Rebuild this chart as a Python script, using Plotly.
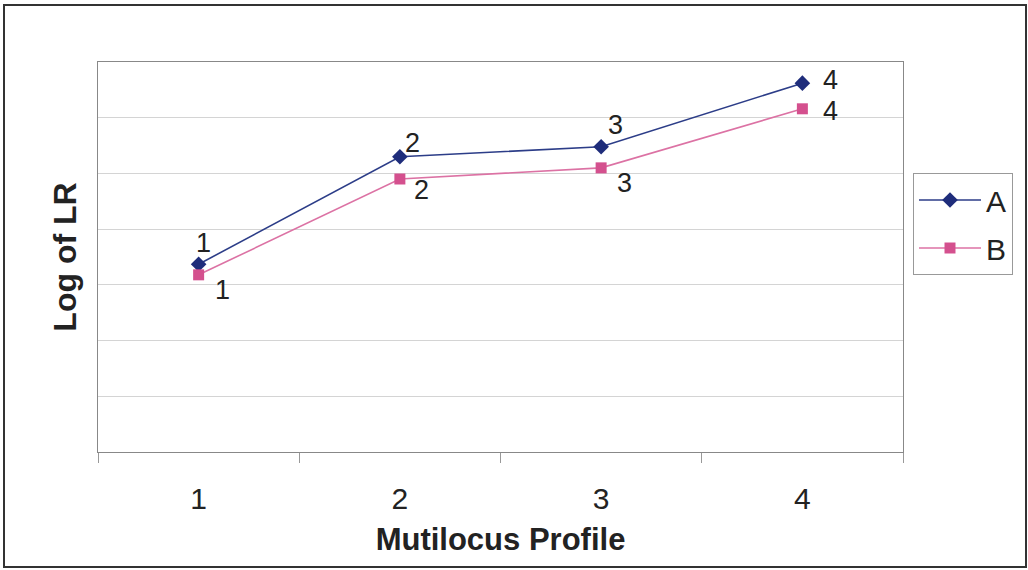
import plotly.graph_objects as go

# ---- data ----
profiles = ["1", "2", "3", "4"]
series_a = [3.37, 5.30, 5.48, 6.62]
series_b = [3.18, 4.90, 5.10, 6.16]
labels_a = ["1", "2", "3", "4"]
labels_b = ["1", "2", "3", "4"]
series_names = ["A", "B"]

# ---- styles ----
COL_A = "#1f2d7b"
COL_A_LINE = "#2c3d88"
COL_B_MARK = "#d4508e"
COL_B_LINE = "#dc72a4"
FONT = "Liberation Sans, Arial, sans-serif"
W, H = 1028, 570
ML, MR, MT, MB = 98, 125, 62, 118

fig = go.Figure()
fig.add_trace(go.Scatter(
    x=profiles, y=series_a, name=series_names[0], mode="lines+markers",
    line=dict(color=COL_A_LINE, width=1.6),
    marker=dict(symbol="diamond", size=12, color=COL_A),
    legendgroup="a",
))
fig.add_trace(go.Scatter(
    x=profiles, y=series_b, name=series_names[1], mode="lines+markers",
    line=dict(color=COL_B_LINE, width=1.6),
    marker=dict(symbol="square", size=11, color=COL_B_MARK),
    legendgroup="b",
))

# per-point label offsets (px): (xshift, yshift)
off_a = [(5, 21), (13, 14), (14, 22), (28, 3)]
off_b = [(24, -15), (22, -11), (23, -15), (28, -2)]
annotations = []
for ys, labs, offs in ((series_a, labels_a, off_a), (series_b, labels_b, off_b)):
    for i, (y, t, (dx, dy)) in enumerate(zip(ys, labs, offs)):
        annotations.append(dict(
            x=i, y=y, xref="x", yref="y", text=t, showarrow=False,
            xshift=dx, yshift=dy, font=dict(family=FONT, size=27, color="#222"),
        ))

pw = W - ML - MR
ph = H - MT - MB
def px_x(p):
    return (p - ML) / pw
def px_y(p):
    return (H - MB - p) / ph

fig.update_layout(
    width=W, height=H,
    margin=dict(l=ML, r=MR, t=MT, b=MB, autoexpand=False),
    paper_bgcolor="white", plot_bgcolor="white",
    font=dict(family=FONT, size=30, color="#222"),
    showlegend=True,
    legend=dict(
        x=px_x(913), y=px_y(173), xanchor="left", yanchor="top",
        bordercolor="#999", borderwidth=1, bgcolor="white",
        font=dict(family=FONT, size=30, color="#222"),
        tracegroupgap=6, itemwidth=62,
    ),
    annotations=annotations,
    shapes=[dict(
        type="rect", xref="paper", yref="paper",
        x0=px_x(4), x1=px_x(1026), y0=px_y(567), y1=px_y(5),
        line=dict(color="#333", width=2), layer="below",
    )],
)

fig.update_xaxes(
    type="category", range=[-0.5, 3.5], tickson="boundaries",
    ticks="outside", ticklen=10, tickcolor="#999",
    showline=True, linecolor="#888", mirror=True,
    showgrid=False, ticklabelstandoff=20,
    tickfont=dict(family=FONT, size=30, color="#222"),
    title=dict(text="<b>Mutilocus Profile</b>", standoff=14,
               font=dict(family=FONT, size=31, color="#222")),
)
fig.update_yaxes(
    range=[0, 7], dtick=1, showticklabels=False, ticks="",
    showline=True, linecolor="#888", mirror=True,
    showgrid=True, gridcolor="#d4d4d4", gridwidth=1, zeroline=False,
    title=dict(text="<b>Log of LR</b>", standoff=10,
               font=dict(family=FONT, size=32, color="#222")),
)

fig.write_html("out.html")
